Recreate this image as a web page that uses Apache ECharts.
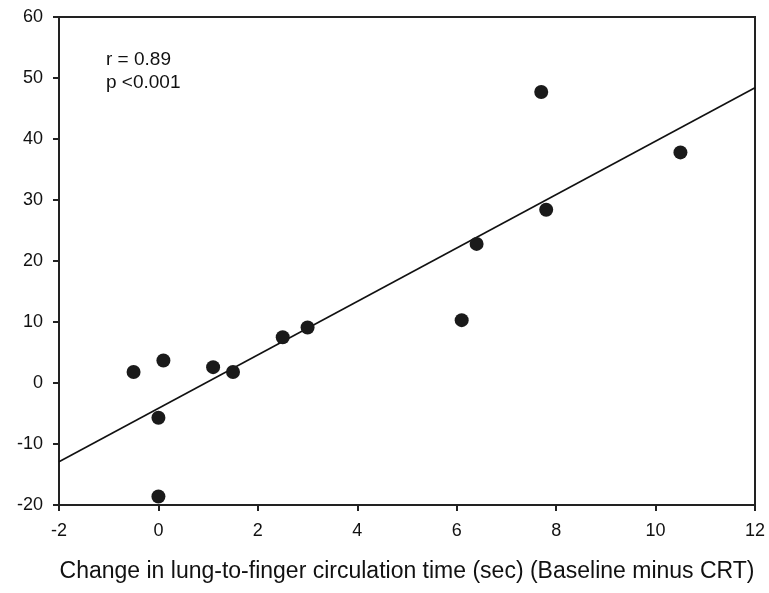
<!DOCTYPE html>
<html><head><meta charset="utf-8">
<script src="https://cdn.jsdelivr.net/npm/echarts@6/dist/echarts.min.js"></script>
<style>html,body{margin:0;padding:0;background:#fff}#c{width:769px;height:593px}</style>
</head><body><div id="c"></div>
<script>
const xValues = [-0.5, 0.1, 0.0, 0.0, 1.1, 1.5, 2.5, 3.0, 6.1, 6.4, 7.7, 7.8, 10.5];
const yValues = [1.8, 3.7, -5.7, -18.6, 2.6, 1.8, 7.5, 9.1, 10.3, 22.8, 47.7, 28.4, 37.8];
const fitX = [-2, 12];
const fitY = [-12.9, 48.4];
const xTitle = 'Change in lung-to-finger circulation time (sec) (Baseline minus CRT)';
const statsText = ['r = 0.89', 'p <0.001'];

const font = '"Liberation Sans", Arial, sans-serif';
const chart = echarts.init(document.getElementById('c'));
const axisCommon = {
  axisLine: {show: true, onZero: false, lineStyle: {color: '#222', width: 2}},
  axisTick: {show: true, inside: false, length: 6, lineStyle: {color: '#222', width: 2}},
  splitLine: {show: false},
  axisLabel: {color: '#111', fontFamily: font, fontSize: 18}
};
chart.setOption({
  animation: false,
  grid: {left: 59, right: 14, top: 17, bottom: 88, show: true, borderColor: '#222', borderWidth: 2, backgroundColor: 'transparent'},
  xAxis: Object.assign({}, axisCommon, {
    type: 'value', min: -2, max: 12, interval: 2,
    axisLabel: Object.assign({}, axisCommon.axisLabel, {margin: 17}),
    name: xTitle, nameLocation: 'middle', nameGap: 55,
    nameTextStyle: {color: '#111', fontFamily: font, fontSize: 23}
  }),
  yAxis: Object.assign({}, axisCommon, {
    type: 'value', min: -20, max: 60, interval: 10,
    axisLabel: Object.assign({}, axisCommon.axisLabel, {margin: 16})
  }),
  graphic: [{
    type: 'text', left: 106, top: 48,
    style: {text: statsText.join('\n'), font: '19px ' + font, fill: '#111', lineHeight: 23}
  }],
  series: [
    {
      type: 'line', data: fitX.map((x, i) => [x, fitY[i]]), symbol: 'none',
      lineStyle: {color: '#111', width: 1.6}, silent: true, z: 2
    },
    {
      type: 'scatter', data: xValues.map((x, i) => [x, yValues[i]]),
      symbol: 'circle', symbolSize: 14, itemStyle: {color: '#1a1a1a', opacity: 1}, z: 3
    }
  ]
});
</script></body></html>
